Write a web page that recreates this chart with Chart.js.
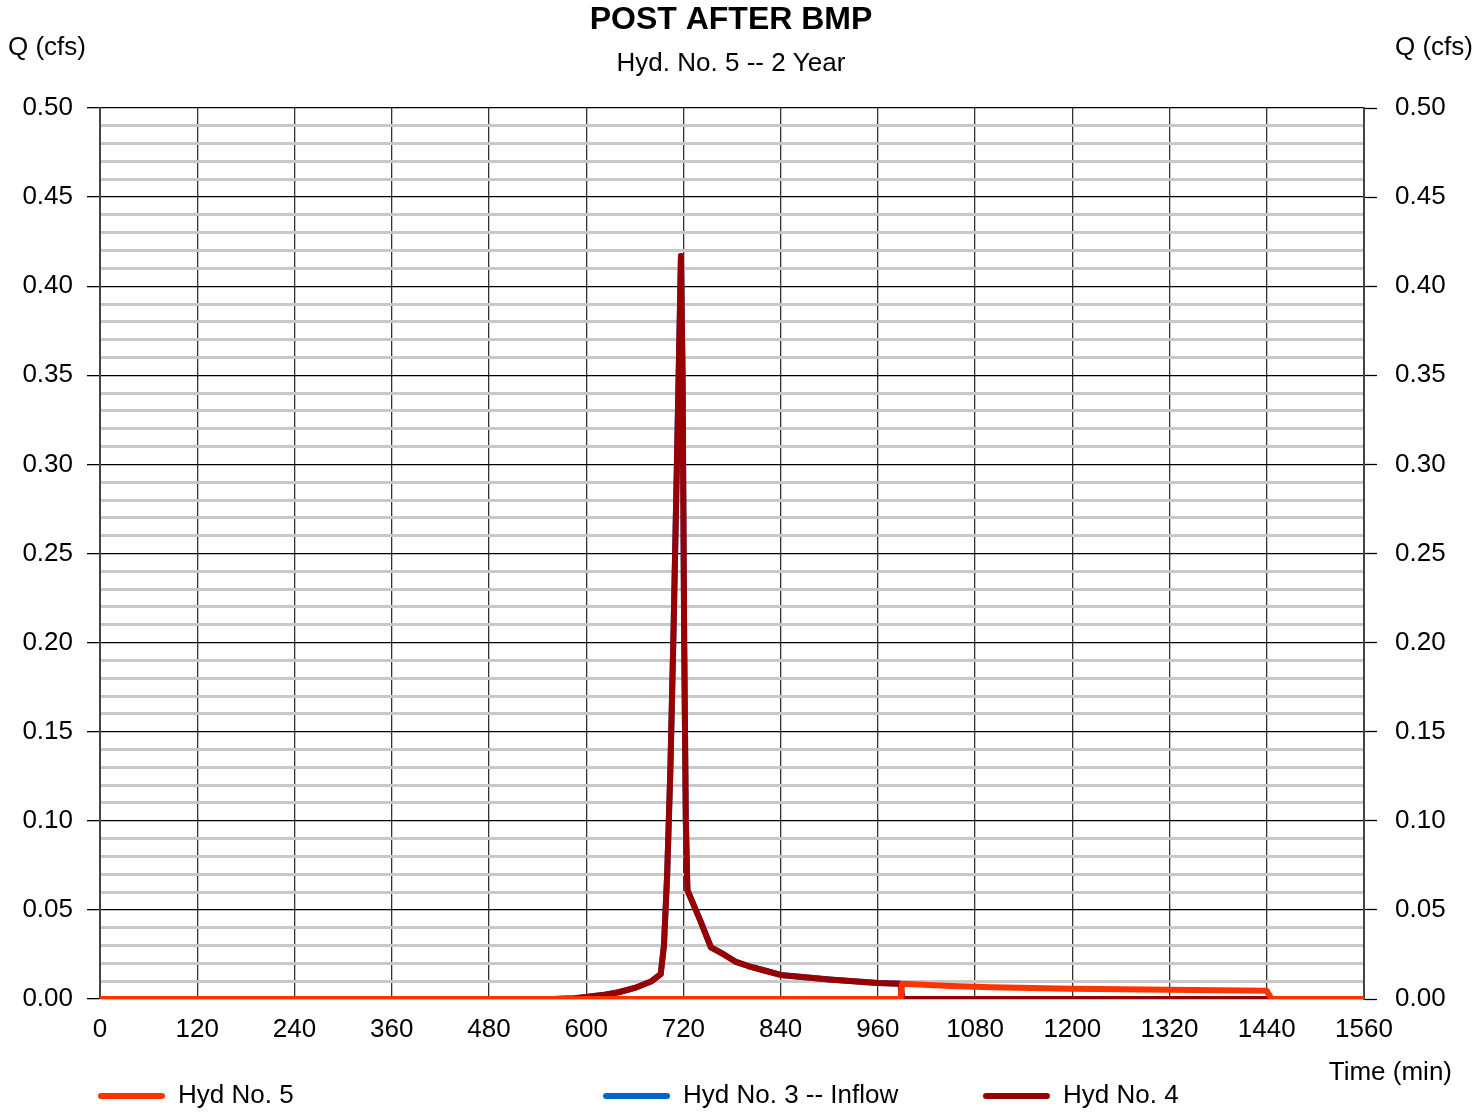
<!DOCTYPE html>
<html>
<head>
<meta charset="utf-8">
<script src="https://cdn.jsdelivr.net/npm/chart.js@4.4.1/dist/chart.umd.min.js"></script>
<style>
  html, body { margin: 0; padding: 0; background: #fff; }
  #wrap { width: 1473px; height: 1114px; position: relative; }
</style>
</head>
<body>
<div id="wrap"><canvas id="hydro"></canvas></div>
<script>
// time in minutes, flow in cfs
const hyd4Times = [0, 560, 586, 600, 620, 640, 660, 680, 692, 696, 700, 704, 708, 712, 715, 717, 719, 721, 723, 725, 740, 754, 770, 784, 800, 820, 840, 870, 900, 930, 960, 988, 990, 1560];
const hyd4Flow  = [0, 0, 0.0004, 0.0012, 0.0022, 0.0038, 0.0062, 0.0098, 0.014, 0.03, 0.07, 0.13, 0.21, 0.3, 0.37, 0.417, 0.35, 0.2, 0.1, 0.061, 0.045, 0.029, 0.025, 0.021, 0.0185, 0.016, 0.0135, 0.0122, 0.011, 0.0099, 0.009, 0.0086, 0, 0];
const hyd3Times = hyd4Times;
const hyd3Flow  = hyd4Flow;
const hyd5Times = [0, 988, 990, 1050, 1100, 1200, 1320, 1440, 1446, 1560];
const hyd5Flow  = [0, 0, 0.0086, 0.0073, 0.0066, 0.0057, 0.0052, 0.0046, 0, 0];

const seriesNames  = ['Hyd No. 5', 'Hyd No. 3 -- Inflow', 'Hyd No. 4'];
const seriesColors = ['#ff3300', '#0066cc', '#990000'];
const legendX = [98, 603, 983];

function pts(t, q) { return t.map((v, i) => ({ x: v, y: q[i] })); }

const FONT = '"Liberation Sans", Arial, sans-serif';
const isMajor = v => Math.round(v * 100) % 5 === 0;

const textPlugin = {
  id: 'texts',
  afterDraw(chart) {
    const c = chart.ctx;
    c.save();
    c.fillStyle = '#000';
    c.textBaseline = 'middle';
    c.textAlign = 'center';
    c.font = 'bold 32px ' + FONT;
    c.fillText('POST AFTER BMP', 731, 20);
    c.font = '26px ' + FONT;
    c.fillText('Hyd. No. 5 -- 2 Year', 731, 64);
    c.textAlign = 'left';
    c.fillText('Q (cfs)', 8, 48);
    c.fillText('Q (cfs)', 1395, 48);
    c.textAlign = 'right';
    c.fillText('Time (min)', 1452, 1073);
    // legend
    c.textAlign = 'left';
    chart.data.datasets.forEach((ds, i) => {
      const x = legendX[i];
      c.strokeStyle = ds.borderColor;
      c.lineWidth = 6;
      c.lineCap = 'round';
      c.beginPath();
      c.moveTo(x + 3, 1096);
      c.lineTo(x + 64, 1096);
      c.stroke();
      c.fillText(ds.label, x + 80, 1096);
    });
    c.restore();
  }
};

const yTicks = {
  stepSize: 0.01,
  autoSkip: false,
  color: '#000',
  font: { size: 26, family: FONT },
  callback: v => isMajor(v) ? v.toFixed(2) : ''
};

new Chart(document.getElementById('hydro'), {
  type: 'line',
  data: {
    datasets: seriesNames.map((name, i) => ({
      label: name,
      data: [pts(hyd5Times, hyd5Flow), pts(hyd3Times, hyd3Flow), pts(hyd4Times, hyd4Flow)][i],
      borderColor: seriesColors[i],
      borderWidth: 6,
      pointRadius: 0,
      tension: 0,
      fill: false,
      borderJoinStyle: 'round',
      borderCapStyle: 'round',
      order: [0, 2, 1][i]
    }))
  },
  options: {
    responsive: true,
    maintainAspectRatio: false,
    animation: false,
    layout: { padding: { top: 108, left: 0, right: 0, bottom: 0 } },
    plugins: { legend: { display: false }, tooltip: { enabled: false }, title: { display: false } },
    scales: {
      x: {
        type: 'linear',
        min: 0, max: 1560,
        afterFit(s) { s.height = 115; },
        ticks: { stepSize: 120, color: '#000', font: { size: 26, family: FONT }, padding: 15, maxRotation: 0,
                 callback: v => String(v) },
        grid: { color: '#333', lineWidth: 1.3, drawTicks: false },
        border: { display: false }
      },
      y: {
        position: 'left',
        min: 0, max: 0.5,
        afterFit(s) { s.width = 100; },
        ticks: Object.assign({ padding: 14 }, yTicks),
        grid: {
          color: ctx => isMajor(ctx.tick.value) ? '#000' : '#c8c8c8',
          lineWidth: ctx => isMajor(ctx.tick.value) ? 1.3 : 3,
          tickColor: ctx => isMajor(ctx.tick.value) ? '#000' : 'rgba(0,0,0,0)',
          tickLength: 13,
          tickWidth: 1.3
        },
        border: { color: '#444', width: 2 }
      },
      y2: {
        position: 'right',
        min: 0, max: 0.5,
        afterFit(s) { s.width = 109; },
        ticks: Object.assign({ padding: 18 }, yTicks),
        grid: {
          drawOnChartArea: false,
          tickColor: ctx => isMajor(ctx.tick.value) ? '#000' : 'rgba(0,0,0,0)',
          tickLength: 13,
          tickWidth: 1.3
        },
        border: { color: '#444', width: 2 }
      }
    }
  },
  plugins: [textPlugin]
});
</script>
</body>
</html>
